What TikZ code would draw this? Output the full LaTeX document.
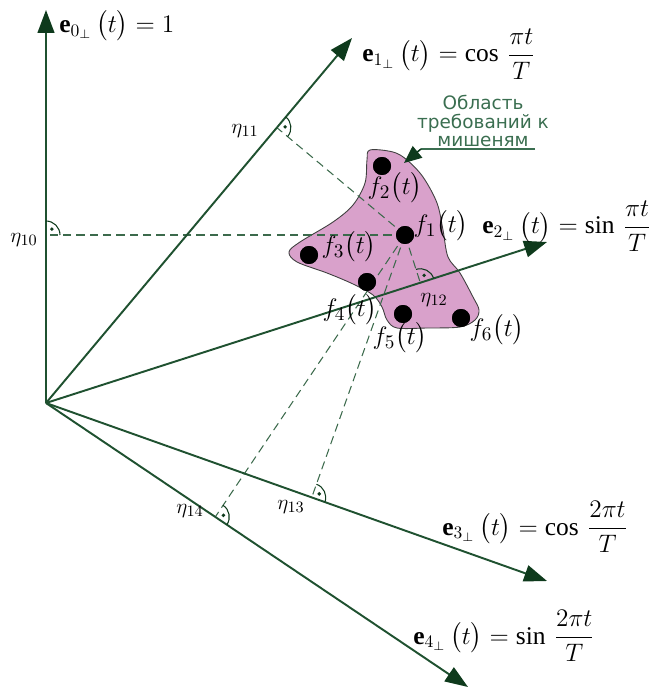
\documentclass[tikz,border=0pt]{standalone}
\usepackage{amsmath}
\usepackage{fontspec}
\setmainfont{Liberation Serif}
\newfontfamily\rufont{DejaVu Sans}
\usetikzlibrary{arrows.meta,calc}
\definecolor{axisc}{HTML}{1F5130}
\definecolor{headc}{HTML}{0E3A1C}
\definecolor{dashc}{HTML}{3C6A4C}
\definecolor{blobfill}{HTML}{D9A1CB}
\definecolor{blobline}{HTML}{3F3F3F}
\definecolor{rutext}{HTML}{3A6E50}
\newcommand{\ramark}[3]{%
  \path ($(#1)!0.28cm!(#2)$) coordinate (ra-a) ($(#1)!0.28cm!(#3)$) coordinate (ra-b);
  \path ($(ra-a)+(ra-b)-(#1)$) coordinate (ra-c);
  \draw[markline] (ra-a) .. controls ($(ra-a)!0.552!(ra-c)$) and ($(ra-b)!0.552!(ra-c)$) .. (ra-b);
  \fill[headc] ($(#1)!0.42!(ra-c)$) circle (1.1pt);
}
\begin{document}
\begin{tikzpicture}[x=0.02cm,y=-0.02cm,
  axisline/.style={draw=axisc, line width=1.1pt, -{Triangle[length=13pt,width=9.5pt,color=headc]}},
  dashline/.style={draw=dashc, line width=0.6pt, dash pattern=on 4.7pt off 2.9pt},
  markline/.style={draw=headc, line width=0.6pt},
  dotnode/.style={circle, fill=black, minimum size=0.36cm, inner sep=0pt},
  lbl/.style={font=\fontsize{14.5}{16}\selectfont, inner sep=0pt},
  eta/.style={font=\fontsize{13}{15}\selectfont, inner sep=0pt},
  flbl/.style={font=\fontsize{15}{17}\selectfont, inner sep=0pt}]
\useasboundingbox (0,0) rectangle (649,689);
% blob
\fill[blobfill, draw=blobline, line width=0.5pt] plot[smooth cycle, tension=0.55] coordinates {
 (370,150) (393,152) (407,160) (423,177) (437,203) (443,230) (448,257) (460,273)
 (473,297) (479,310) (475,320) (460,327) (427,328) (397,328) (387,320) (382,307)
 (373,295) (353,284) (327,273) (297,262) (289,252) (300,242) (333,222) (353,205)
 (365,183) (367,160)};
% origin and tips
\coordinate (O) at (46,403);
\coordinate (t0) at (46,10);
\coordinate (t1) at (352,38);
\coordinate (t2) at (547,242);
\coordinate (t3) at (547,581);
\coordinate (t4) at (468,687);
% dots
\node[dotnode] (f1) at (405,235) {};
\node[dotnode] (f2) at (382,166) {};
\node[dotnode] (f3) at (309,255) {};
\node[dotnode] (f4) at (367,282) {};
\node[dotnode] (f5) at (403,314) {};
\node[dotnode] (f6) at (461,318) {};
% feet
\coordinate (h0) at ($(O)!(f1)!(t0)$);
\coordinate (h1) at ($(O)!(f1)!(t1)$);
\coordinate (h2) at ($(O)!(f1)!(t2)$);
\coordinate (h3) at ($(O)!(f1)!(t3)$);
\coordinate (h4) at ($(O)!(f1)!(t4)$);
% dashed
\foreach \h in {h0,h1,h2,h3,h4} \draw[dashline] (f1.center) -- (\h);
% axes
\foreach \t in {t0,t1,t2,t3,t4} \draw[axisline] (O) -- (\t);
% right angle marks
\ramark{h0}{t0}{f1}
\ramark{h1}{t1}{f1}
\ramark{h2}{t2}{f1}
\ramark{h3}{t3}{f1}
\ramark{h4}{t4}{f1}
% redraw dots on top
\foreach \f in {f1,f2,f3,f4,f5,f6} \fill (\f) circle (0.18cm);
% axis labels
\node[lbl, anchor=west] (l0) at (59,26) {$\mathbf{e}_{0_\perp}\,\bigl(t\bigr)=1$};
\node[lbl, anchor=west] (l1) at (362,54) {$\mathbf{e}_{1_\perp}\,\bigl(t\bigr)=\cos\,\dfrac{\pi t}{T}$};
\node[lbl, anchor=west] (l2) at (482,226) {$\mathbf{e}_{2_\perp}\,\bigl(t\bigr)=\sin\,\dfrac{\pi t}{T}$};
\node[lbl, anchor=west] (l3) at (442,527) {$\mathbf{e}_{3_\perp}\,\bigl(t\bigr)=\cos\,\dfrac{2\pi t}{T}$};
\node[lbl, anchor=west] (l4) at (413,636) {$\mathbf{e}_{4_\perp}\,\bigl(t\bigr)=\sin\,\dfrac{2\pi t}{T}$};
% eta labels
\node[eta] (n10) at (24,240) {$\eta_{10}$};
\node[eta] (n11) at (245,131) {$\eta_{11}$};
\node[eta] (n12) at (434,300) {$\eta_{12}$};
\node[eta] (n13) at (291,507) {$\eta_{13}$};
\node[eta] (n14) at (190,511) {$\eta_{14}$};
% f labels
\node[flbl] (lf1) at (441,226) {$f_1\bigl(t\bigr)$};
\node[flbl] (lf2) at (395,188) {$f_2\bigl(t\bigr)$};
\node[flbl] (lf3) at (349,247) {$f_3\bigl(t\bigr)$};
\node[flbl] (lf4) at (350,310) {$f_4\bigl(t\bigr)$};
\node[flbl] (lf5) at (400,338) {$f_5\bigl(t\bigr)$};
\node[flbl] (lf6) at (497,330) {$f_6\bigl(t\bigr)$};
% region label
\node[text=rutext, align=center, font=\rufont\fontsize{10.5}{10.3}\selectfont, inner sep=0pt] (rt) at (483,121) {Область\\требований к\\мишеням};
\coordinate (ulr) at (535,149);
\coordinate (ull) at (421,149);
\coordinate (btip) at (404,163);
\draw[rutext, line width=0.7pt] (ulr) -- (ull);
\draw[headc, line width=0.9pt, -{Triangle[length=10pt,width=8.5pt,color=headc]}] (ull) -- (btip);
\end{tikzpicture}
\end{document}
